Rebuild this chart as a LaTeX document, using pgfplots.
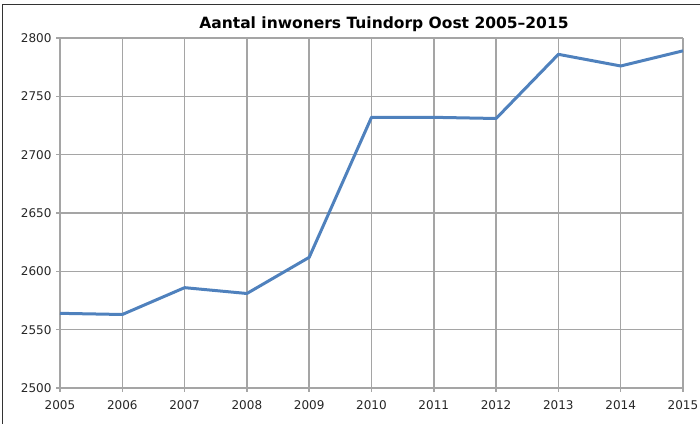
\documentclass[border=0pt]{standalone}
\usepackage{pgfplots}
\pgfplotsset{compat=1.18}
\usepackage{fontspec}
\setmainfont{DejaVu Sans}
\definecolor{lineblue}{RGB}{79,129,189}
\definecolor{gridgray}{RGB}{165,165,165}
\begin{document}
\begin{tikzpicture}
\begin{axis}[
  name=ax,
  scale only axis,
  width=623pt, height=350pt,
  xmin=2005, xmax=2015, ymin=2500, ymax=2800,
  xtick={2005,...,2015}, ytick={2500,2550,...,2800},
  xticklabel style={/pgf/number format/1000 sep={}, yshift=-5pt},
  yticklabel style={/pgf/number format/1000 sep={}, xshift=-1pt},
  /pgf/number format/assume math mode=true,
  tick label style={font=\fontsize{12}{14}\selectfont, text=black!85},
  grid=major,
  major grid style={gridgray, line width=1.5pt},
  axis line style={gridgray, line width=1.5pt},
  axis x line*=bottom, axis y line*=left,
  tick style={gridgray, line width=1.5pt},
  tick align=outside,
  major tick length=4pt,
  xtick pos=bottom, ytick pos=left,
  title={\textbf{Aantal inwoners Tuindorp Oost 2005--2015}},
  title style={font=\fontsize{15.5}{18}\selectfont, at={(0.52,1)}, yshift=-3pt},
  clip=false,
]
\addplot[lineblue, line width=3pt, line join=round] coordinates {
(2005,2564) (2006,2563) (2007,2586) (2008,2581) (2009,2612) (2010,2732)
(2011,2732) (2012,2731) (2013,2786) (2014,2776) (2015,2789)
};
\end{axis}
\draw[black!80, line width=1pt] ([xshift=-57pt,yshift=-36pt]ax.south west) -- ([xshift=-57pt,yshift=33pt]ax.north west) -- ([xshift=17pt,yshift=33pt]ax.north east);
\pgfresetboundingbox
\path ([xshift=-60pt,yshift=-36pt]ax.south west) rectangle ([xshift=17pt,yshift=38pt]ax.north east);
\end{tikzpicture}
\end{document}
